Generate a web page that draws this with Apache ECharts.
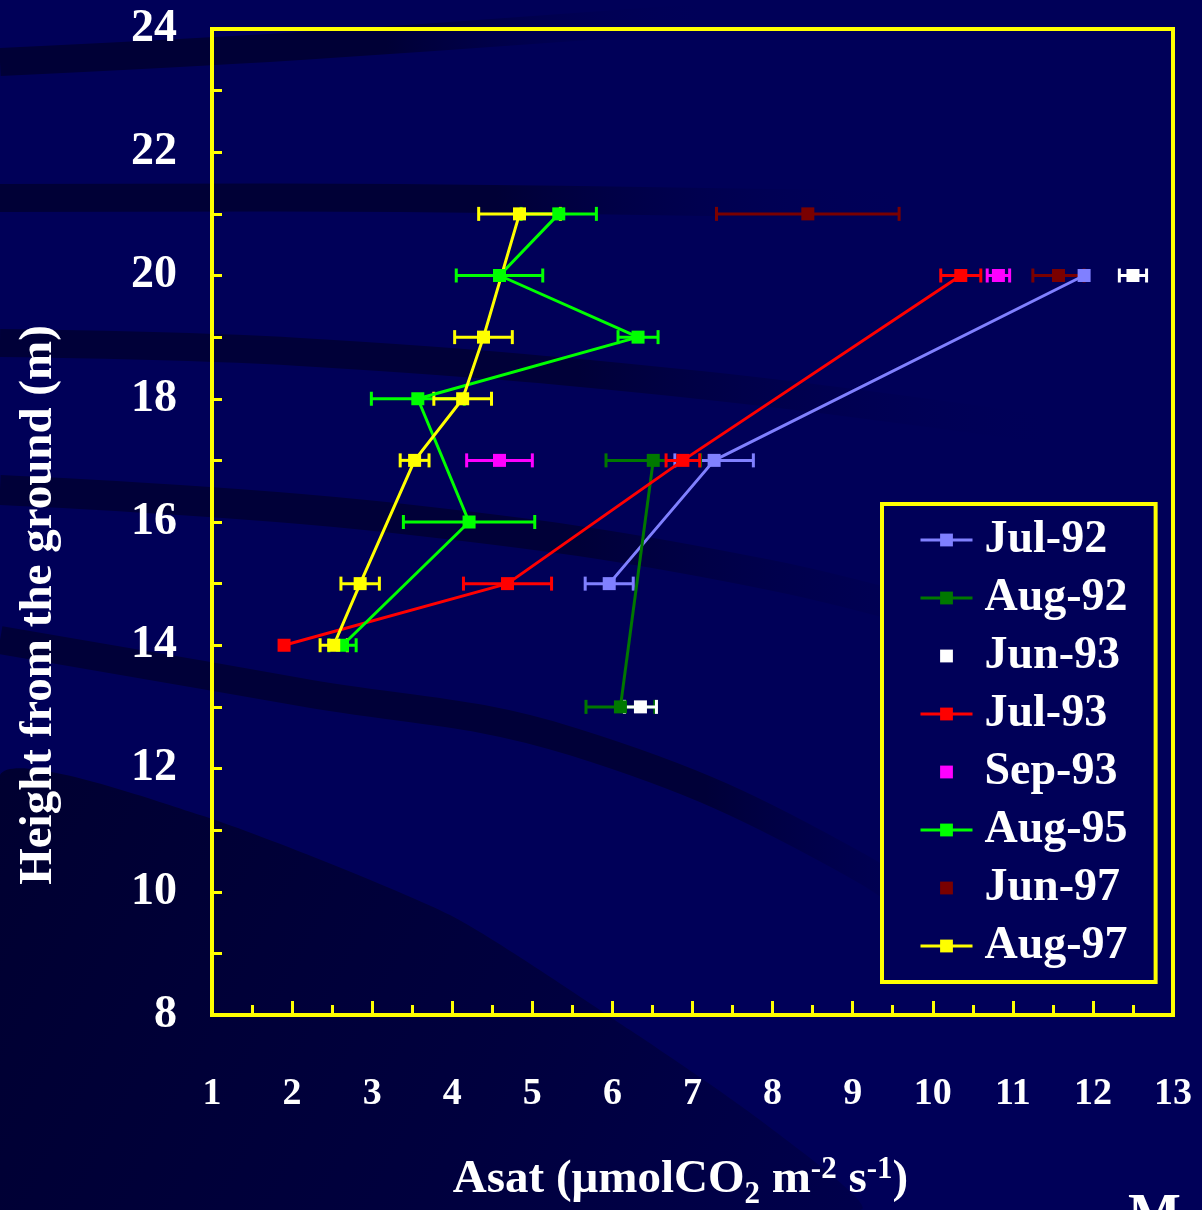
<!DOCTYPE html>
<html>
<head>
<meta charset="utf-8">
<script src="https://cdn.jsdelivr.net/npm/echarts@6/dist/echarts.min.js"></script>
<style>
html,body{margin:0;padding:0;background:#000058;}
#chart{width:1202px;height:1210px;}
</style>
</head>
<body>
<div id="chart"></div>
<script>
// ---- data ----
const seriesNames = ['Jul-92', 'Aug-92', 'Jun-93', 'Jul-93', 'Sep-93', 'Aug-95', 'Jun-97', 'Aug-97'];
const seriesColors = ['#8080FF', '#007800', '#FFFFFF', '#FF0000', '#FF00FF', '#00FF00', '#7A0000', '#FFFF00'];
const seriesHasLine = [true, true, false, true, false, true, false, true];

const jul92Asat = [5.96, 7.27, 11.89];
const jul92Height = [15, 17, 20];
const jul92Err = [0.30, 0.49, 0];

const aug92Asat = [6.10, 6.51];
const aug92Height = [13, 17];
const aug92Err = [0.43, 0.59];

const jun93Asat = [6.35, 12.50];
const jun93Height = [13, 20];
const jun93Err = [0.20, 0.17];

const jul93Asat = [1.90, 4.69, 6.88, 10.35];
const jul93Height = [14, 15, 17, 20];
const jul93Err = [0, 0.55, 0.21, 0.25];

const sep93Asat = [4.59, 10.82];
const sep93Height = [17, 20];
const sep93Err = [0.41, 0.14];

const aug95Asat = [2.63, 4.21, 3.57, 6.32, 4.59, 5.33];
const aug95Height = [14, 16, 18, 19, 20, 21];
const aug95Err = [0.17, 0.82, 0.58, 0.25, 0.54, 0.47];

const jun97Asat = [8.44, 11.57];
const jun97Height = [21, 20];
const jun97Err = [1.14, 0.32];

const aug97Asat = [2.52, 2.85, 3.53, 4.13, 4.39, 4.84];
const aug97Height = [14, 15, 17, 18, 19, 21];
const aug97Err = [0.17, 0.24, 0.18, 0.36, 0.36, 0.51];

const xTickMin = 1, xTickMax = 13, xTickStep = 1;
const yTickMin = 8, yTickMax = 24, yTickStep = 1;

// x title: "Asat (μmolCO2 m-2 s-1)" with subscript 2 and superscripts -2, -1
const xAxisTitle = 'Asat (μmolCO{sub|2} m{sup|-2} s{sup|-1})';
const yAxisTitle = 'Height from the ground (m)';

// ---- build ----
const allAsat = [jul92Asat, aug92Asat, jun93Asat, jul93Asat, sep93Asat, aug95Asat, jun97Asat, aug97Asat];
const allHeight = [jul92Height, aug92Height, jun93Height, jul93Height, sep93Height, aug95Height, jun97Height, aug97Height];
const allErr = [jul92Err, aug92Err, jun93Err, jul93Err, sep93Err, aug95Err, jun97Err, aug97Err];

const errData = [];
allAsat.forEach((xs, si) => {
  xs.forEach((x, i) => {
    const e = allErr[si][i];
    if (e > 0) errData.push([x - e, x + e, allHeight[si][i], si]);
  });
});

const serif = '"Liberation Serif", "Times New Roman", serif';

const series = [{
  type: 'custom',
  name: 'errorbars',
  z: 1,
  silent: true,
  encode: { x: [0, 1], y: 2 },
  data: errData,
  renderItem: function (params, api) {
    const lo = api.coord([api.value(0), api.value(2)]);
    const hi = api.coord([api.value(1), api.value(2)]);
    const c = seriesColors[api.value(3)];
    const h = 7;
    const st = { stroke: c, lineWidth: 3 };
    return {
      type: 'group', children: [
        { type: 'line', shape: { x1: lo[0], y1: lo[1], x2: hi[0], y2: hi[1] }, style: st },
        { type: 'line', shape: { x1: lo[0], y1: lo[1] - h, x2: lo[0], y2: lo[1] + h }, style: st },
        { type: 'line', shape: { x1: hi[0], y1: hi[1] - h, x2: hi[0], y2: hi[1] + h }, style: st }
      ]
    };
  }
}];

seriesNames.forEach((name, si) => {
  series.push({
    type: 'line',
    name: name,
    z: 3,
    data: allAsat[si].map((x, i) => [x, allHeight[si][i]]),
    symbol: 'rect',
    symbolSize: 13,
    showSymbol: true,
    lineStyle: { color: seriesColors[si], width: 3, opacity: seriesHasLine[si] ? 1 : 0 },
    itemStyle: { color: seriesColors[si] },
    emphasis: { disabled: true }
  });
});

function band(points, width, color) {
  return {
    type: 'polyline', z: -10, silent: true,
    shape: { points: points, smooth: 0.4 },
    style: { stroke: color, lineWidth: width, fill: null }
  };
}
function fade(c, keep) {
  return { type: 'linear', x: 0, y: 0, x2: 1, y2: 0,
    colorStops: [{ offset: 0, color: c }, { offset: keep || 0.55, color: c }, { offset: 1, color: 'rgba(0,0,88,0)' }] };
}

const option = {
  backgroundColor: '#000058',
  animation: false,
  textStyle: { fontFamily: serif },
  grid: {
    left: 212, top: 29, right: 29, bottom: 195,
    outerBoundsMode: 'none',
    containLabel: false,
    show: true, borderColor: '#FFFF00', borderWidth: 4, backgroundColor: 'transparent'
  },
  graphic: [
    {
      type: 'polygon', z: -11, silent: true,
      shape: { points: [[0, 775], [200, 815], [450, 915], [630, 1030], [760, 1120], [860, 1210], [0, 1210]], smooth: 0.2 },
      style: { fill: { type: 'linear', x: 0, y: 0, x2: 1, y2: 1,
        colorStops: [{ offset: 0, color: '#000030' }, { offset: 0.6, color: '#00003E' }, { offset: 1, color: '#00004C' }] } }
    },
    band([[0, 62], [300, 46], [700, 18]], 28, fade('#000036')),
    band([[0, 198], [400, 198], [900, 205]], 28, fade('#000036')),
    band([[0, 343], [300, 352], [700, 385], [1050, 430]], 28, fade('#000038')),
    band([[0, 490], [385, 517], [770, 575], [1050, 650]], 30, fade('#000038')),
    band([[0, 640], [300, 692], [574, 742], [861, 868], [1000, 980]], 28, fade('#000038', 0.7)),
    {
      type: 'text', left: 1128, top: 1191, silent: true,
      style: { text: 'M', fill: '#FFFFFF', font: 'bold 56px ' + serif }
    }
  ],
  legend: {
    orient: 'vertical',
    left: 882, top: 504,
    padding: [13, 28, 13, 37],
    itemWidth: 52, itemHeight: 16, itemGap: 12,
    backgroundColor: '#000058',
    borderColor: '#FFFF00', borderWidth: 4,
    selectedMode: false,
    data: seriesNames,
    lineStyle: { width: 3 },
    textStyle: { color: '#FFFFFF', fontFamily: serif, fontWeight: 'bold', fontSize: 46, lineHeight: 46, padding: [0, 0, 0, 7] }
  },
  xAxis: {
    type: 'value',
    min: xTickMin, max: xTickMax, interval: xTickStep,
    name: xAxisTitle,
    nameLocation: 'middle',
    nameGap: 134,
    nameTextStyle: {
      color: '#FFFFFF', fontFamily: serif, fontWeight: 'bold', fontSize: 47, padding: [0, 24, 0, 0],
      rich: {
        sub: { color: '#FFFFFF', fontFamily: serif, fontWeight: 'bold', fontSize: 31, padding: [30, 0, 0, 0] },
        sup: { color: '#FFFFFF', fontFamily: serif, fontWeight: 'bold', fontSize: 31, padding: [0, 0, 20, 0] }
      }
    },
    axisLine: { show: true, lineStyle: { color: '#FFFF00', width: 4 } },
    axisTick: { show: true, inside: true, length: 14, lineStyle: { color: '#FFFF00', width: 3 } },
    minorTick: { show: true, splitNumber: 2, length: 10, lineStyle: { color: '#FFFF00', width: 3 } },
    splitLine: { show: false },
    axisLabel: { color: '#FFFFFF', fontFamily: serif, fontWeight: 'bold', fontSize: 38, margin: 60 }
  },
  yAxis: {
    type: 'value',
    min: yTickMin, max: yTickMax, interval: yTickStep,
    name: yAxisTitle,
    nameLocation: 'middle',
    nameGap: 150,
    nameRotate: 90,
    nameTextStyle: {
      color: '#FFFFFF', fontFamily: serif, fontWeight: 'bold', fontSize: 47, padding: [0, 166, 0, 0]
    },
    axisLine: { show: true, lineStyle: { color: '#FFFF00', width: 4 } },
    axisTick: { show: true, inside: true, length: 10, lineStyle: { color: '#FFFF00', width: 3 } },
    splitLine: { show: false },
    axisLabel: {
      color: '#FFFFFF', fontFamily: serif, fontWeight: 'bold', fontSize: 46, margin: 35,
      formatter: v => (v % 2 === 0 ? String(v) : '')
    }
  },
  series: series
};

const chart = echarts.init(document.getElementById('chart'), null, { renderer: 'canvas' });
chart.setOption(option);
</script>
</body>
</html>
